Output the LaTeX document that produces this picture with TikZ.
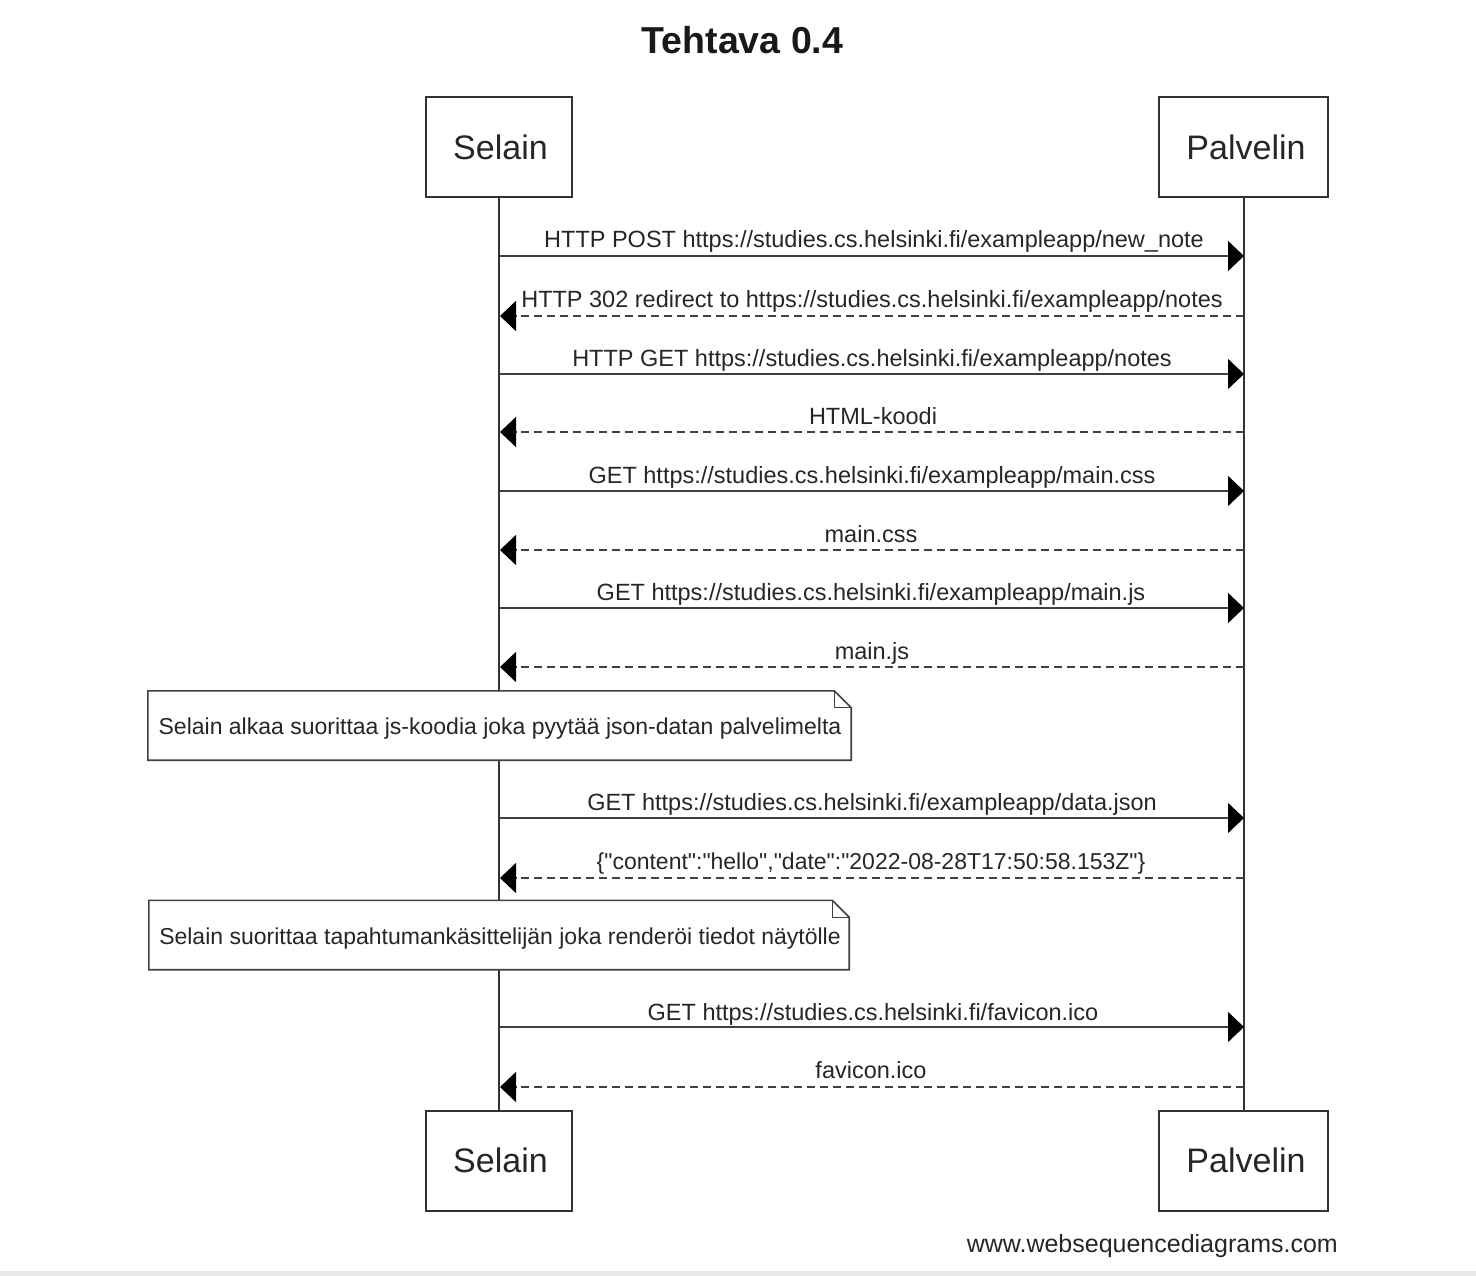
\documentclass[tikz,border=0pt]{standalone}
\usepackage{fontspec}
\setmainfont{Liberation Sans}
\usetikzlibrary{arrows.meta}
\begin{document}
\begin{tikzpicture}[x=1pt,y=-1pt,
  actor/.style={draw=black!80,line width=2pt,fill=white,minimum width=#1,minimum height=100pt,inner sep=0pt,font=\fontsize{34}{40}\selectfont,text=black!85},
  lifeline/.style={draw=black!80,line width=2pt},
  msg/.style={draw=black!75,line width=1.6pt,-{Triangle[length=16pt,width=30pt,color=black]}},
  reply/.style={msg,dash pattern=on 8pt off 5pt},
  lbl/.style={anchor=base,inner sep=0pt,font=\fontsize{23.5}{28}\selectfont,text=black!85},
  nlbl/.style={anchor=base,inner sep=0pt,font=\fontsize{23}{28}\selectfont,text=black!85},
  notetext/.style={inner sep=0pt,minimum height=69pt},
  notebox/.style={draw=black!75,line width=1.6pt,fill=white}
]
\useasboundingbox (0,0) rectangle (1476,1276);
\fill[black!9] (0,1271) rectangle (1476,1276);

\node[font=\bfseries\fontsize{37.5}{44}\selectfont,text=black!90] (title) at (742.5,40) {Tehtava 0.4};

\node[actor=146pt] (s1) at (499,147) {\hspace*{3pt}Selain};
\node[actor=169pt] (p1) at (1243.5,147) {\hspace*{5pt}Palvelin};
\node[actor=146pt] (s2) at (499,1160.5) {\hspace*{3pt}Selain};
\node[actor=169pt] (p2) at (1243.5,1160.5) {\hspace*{5pt}Palvelin};

\draw[lifeline] (s1.south) -- (s2.north);
\draw[lifeline] (p1.south) -- (p2.north);

% messages
\foreach \i/\y in {1/256,2/316,3/374,4/432,5/491,6/550,7/608,8/667,9/818,10/878,11/1027,12/1087}{
  \coordinate (a\i) at (500,\y);
  \coordinate (b\i) at (1244,\y);
}
\draw[msg] (a1) -- (b1);
\node[lbl] (l1) at (874,248) {HTTP POST https://studies.cs.helsinki.fi/exampleapp/new\_note};
\draw[reply] (b2) -- (a2);
\node[lbl] (l2) at (872,307) {HTTP 302 redirect to https://studies.cs.helsinki.fi/exampleapp/notes};
\draw[msg] (a3) -- (b3);
\node[lbl] (l3) at (872,366) {HTTP GET https://studies.cs.helsinki.fi/exampleapp/notes};
\draw[reply] (b4) -- (a4);
\node[lbl] (l4) at (873,424) {HTML-koodi};
\draw[msg] (a5) -- (b5);
\node[lbl] (l5) at (872,483) {GET https://studies.cs.helsinki.fi/exampleapp/main.css};
\draw[reply] (b6) -- (a6);
\node[lbl] (l6) at (871,542) {main.css};
\draw[msg] (a7) -- (b7);
\node[lbl] (l7) at (871,600) {GET https://studies.cs.helsinki.fi/exampleapp/main.js};
\draw[reply] (b8) -- (a8);
\node[lbl] (l8) at (872,659) {main.js};

% note 1
\node[notetext,minimum width=703pt] (n1) at (499.5,725.5) {};
\draw[notebox] (n1.south west) -- (n1.north west) -- ([xshift=-17pt]n1.north east) -- ([yshift=-17pt]n1.north east) -- (n1.south east) -- cycle;
\draw[black!75,line width=1.3pt] ([xshift=-17pt]n1.north east) -- ([xshift=-17pt,yshift=-17pt]n1.north east) -- ([yshift=-17pt]n1.north east);
\node[nlbl] (t1) at (500,734) {Selain alkaa suorittaa js-koodia joka pyytää json-datan palvelimelta};

\draw[msg] (a9) -- (b9);
\node[lbl] (l9) at (872,810) {GET https://studies.cs.helsinki.fi/exampleapp/data.json};
\draw[reply] (b10) -- (a10);
\node[nlbl] (l10) at (871,869) {\{\textquotedbl content\textquotedbl:\textquotedbl hello\textquotedbl,\textquotedbl date\textquotedbl:\textquotedbl 2022-08-28T17:50:58.153Z\textquotedbl\}};

% note 2
\node[notetext,minimum width=700pt] (n2) at (499,935) {};
\draw[notebox] (n2.south west) -- (n2.north west) -- ([xshift=-17pt]n2.north east) -- ([yshift=-17pt]n2.north east) -- (n2.south east) -- cycle;
\draw[black!75,line width=1.3pt] ([xshift=-17pt]n2.north east) -- ([xshift=-17pt,yshift=-17pt]n2.north east) -- ([yshift=-17pt]n2.north east);
\node[nlbl] (t2) at (500,944) {Selain suorittaa tapahtumankäsittelijän joka renderöi tiedot näytölle};

\draw[msg] (a11) -- (b11);
\node[lbl] (l11) at (873,1020) {GET https://studies.cs.helsinki.fi/favicon.ico};
\draw[reply] (b12) -- (a12);
\node[lbl] (l12) at (871,1078) {favicon.ico};

\node[anchor=base east,inner sep=0pt,font=\fontsize{25}{30}\selectfont,text=black!85] (foot) at (1338,1252) {www.websequencediagrams.com};
\end{tikzpicture}
\end{document}
